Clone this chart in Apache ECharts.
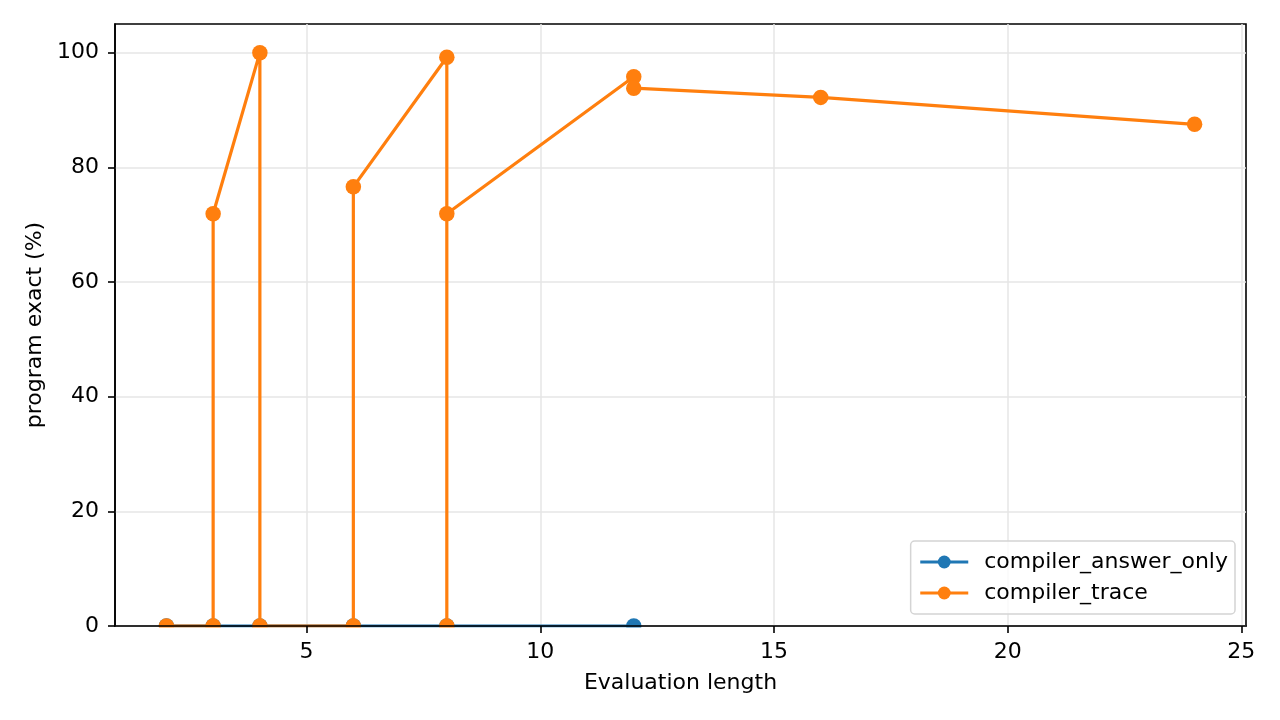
<!DOCTYPE html>
<html>
<head>
<meta charset="utf-8">
<script src="https://cdn.jsdelivr.net/npm/echarts@6/dist/echarts.min.js"></script>
<style>
  html, body { margin: 0; padding: 0; background: #fff; }
  #chart { width: 1280px; height: 720px; }
</style>
</head>
<body>
<div id="chart"></div>
<script>
// data
var answerOnlyLen = [2, 3, 4, 6, 8, 12];
var answerOnlyExact = [0, 0, 0, 0, 0, 0];
var traceLen = [2, 3, 3, 4, 4, 6, 6, 8, 8, 8, 12, 12, 16, 24];
var traceExact = [0, 0, 71.9, 100, 0, 0, 76.6, 99.2, 0, 71.9, 95.8, 93.8, 92.2, 87.5];
var xTicks = [5, 10, 15, 20, 25];
var yTicks = [0, 20, 40, 60, 80, 100];

function pairs(xs, ys) {
    var out = [];
    for (var i = 0; i < xs.length; i++) out.push([xs[i], ys[i]]);
    return out;
}

var font = 'DejaVu Sans';
var fs = 22;
var myChart = echarts.init(document.getElementById('chart'));

var option = {
    backgroundColor: '#fff',
    animation: false,
    textStyle: { fontFamily: font },
    grid: {
        left: 115, right: 34, top: 24, bottom: 94,
        show: true, borderColor: '#000', borderWidth: 1.6, backgroundColor: 'transparent'
    },
    xAxis: [{
        type: 'value', min: 0.9, max: 25.1, z: 10,
        name: 'Evaluation length', nameLocation: 'middle', nameGap: 46,
        nameTextStyle: { fontSize: fs, color: '#000', fontFamily: font },
        axisLine: { show: true, onZero: false, lineStyle: { color: '#000', width: 1.6 } },
        axisTick: { show: true, length: 7, customValues: xTicks, lineStyle: { color: '#000', width: 1.6 } },
        axisLabel: { customValues: xTicks, margin: 15, fontSize: fs, color: '#000', fontFamily: font },
        splitLine: { show: false }
    }, {
        type: 'value', min: 0.9, max: 25.1, z: 0, position: 'bottom',
        axisLine: { show: false },
        axisTick: { show: false, customValues: xTicks },
        axisLabel: { show: false, customValues: xTicks },
        splitLine: { show: true, lineStyle: { color: '#e6e6e6', width: 1.5 } }
    }],
    yAxis: {
        type: 'value', min: 0, max: 105,
        name: 'program exact (%)', nameLocation: 'middle', nameGap: 52,
        nameTextStyle: { fontSize: fs, color: '#000', fontFamily: font },
        axisLine: { show: true, lineStyle: { color: '#000', width: 1.6 } },
        axisTick: { show: true, length: 7, customValues: yTicks, lineStyle: { color: '#000', width: 1.6 } },
        axisLabel: { customValues: yTicks, margin: 16, fontSize: fs, color: '#000', fontFamily: font },
        splitLine: { show: true, lineStyle: { color: '#e6e6e6', width: 1.5 } }
    },
    legend: {
        orient: 'vertical', right: 45, bottom: 106,
        padding: [10, 7, 10, 8],
        itemWidth: 48, itemHeight: 16, itemGap: 9,
        backgroundColor: 'rgba(255,255,255,0.8)',
        borderColor: '#d4d4d4', borderWidth: 1.5, borderRadius: 4,
        lineStyle: { width: 3.2 },
        textStyle: { fontSize: fs, color: '#000', fontFamily: font, padding: [0, 0, 0, 11] },
        data: ['compiler_answer_only', 'compiler_trace']
    },
    // hides the lower half of the markers sitting on y = 0, as the axes clip them
    graphic: [{
        type: 'rect', z: 5,
        shape: { x: 117, y: 627.5, width: 1127, height: 9 },
        style: { fill: '#fff' }
    }],
    series: [{
        name: 'compiler_answer_only', type: 'line',
        data: pairs(answerOnlyLen, answerOnlyExact),
        color: '#1f77b4', symbol: 'circle', symbolSize: 15.5, showAllSymbol: true,
        lineStyle: { width: 3.2 }, clip: false, z: 2
    }, {
        name: 'compiler_trace', type: 'line',
        data: pairs(traceLen, traceExact),
        color: '#ff7f0e', symbol: 'circle', symbolSize: 15.5, showAllSymbol: true,
        lineStyle: { width: 3.2 }, clip: false, z: 3
    }]
};
myChart.setOption(option);
</script>
</body>
</html>
